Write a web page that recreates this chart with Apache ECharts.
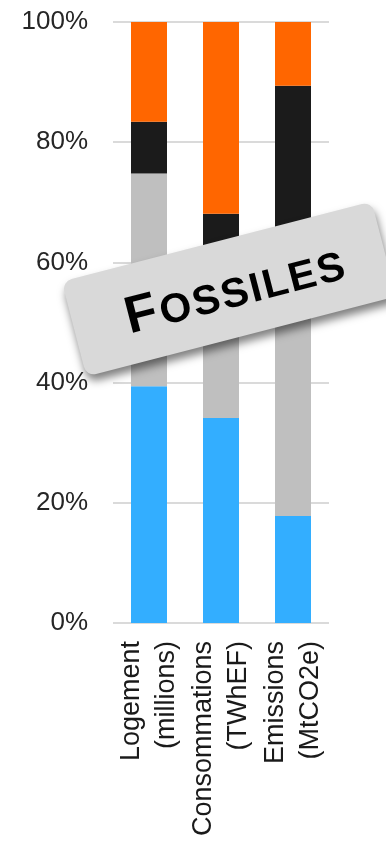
<!DOCTYPE html>
<html lang="fr">

<head>
    <meta charset="utf-8">
    <script src="https://cdn.jsdelivr.net/npm/echarts@6.0.0/dist/echarts.min.js"></script>
    <style>
        html, body {
            margin: 0;
            padding: 0;
            background: #fff;
        }

        #chart {
            width: 386px;
            height: 844px;
        }
    </style>
</head>

<body>
    <div id="chart"></div>
    <script>
        // catégories et parts (en %) de chaque segment, de bas en haut
        const categories = ['Logement\n(millions)', 'Consommations\n(TWhEF)', 'Emissions\n(MtCO2e)']
        const blueShare = [39.4, 34.1, 17.8]
        const greyShare = [35.4, 21.9, 42.2]
        const blackShare = [8.6, 12.1, 29.4]
        const orangeShare = [16.6, 31.9, 10.6]
        const yTicks = [0, 20, 40, 60, 80, 100]

        const colors = ['#33aeff', '#bfbfbf', '#1b1b1b', '#ff6600']
        const stacks = [blueShare, greyShare, blackShare, orangeShare]

        // étiquette "FOSSILES" en petites capitales, lettres espacées
        const word = 'FOSSILES'
        const wordText = word.split('').map((c, i) => (i == 0 ? '{f|' : '{s|') + c + '}').join('')

        let chart = echarts.init(document.querySelector('#chart'))
        chart.setOption({
            animation: false,
            grid: {
                left: 113,
                right: 57,
                top: 22,
                bottom: 221,
                containLabel: false
            },
            xAxis: {
                type: 'category',
                data: categories,
                axisLine: { show: false },
                axisTick: { show: false },
                axisLabel: {
                    rotate: 90,
                    margin: 18,
                    interval: 0,
                    fontFamily: 'Liberation Sans',
                    fontSize: 27,
                    lineHeight: 35,
                    color: '#1a1a1a'
                }
            },
            yAxis: {
                type: 'value',
                min: yTicks[0],
                max: yTicks[yTicks.length - 1],
                interval: 20,
                axisLine: { show: false },
                axisTick: { show: false },
                axisLabel: {
                    formatter: '{value}%',
                    margin: 25,
                    fontFamily: 'Liberation Sans',
                    fontSize: 26,
                    color: '#262626'
                },
                splitLine: {
                    lineStyle: { color: '#dadada', width: 2 }
                }
            },
            series: stacks.map((d, i) => ({
                type: 'bar',
                stack: 'total',
                data: d,
                barWidth: 36,
                itemStyle: { color: colors[i] }
            })),
            graphic: {
                elements: [{
                    type: 'group',
                    x: 229,
                    y: 289,
                    rotation: 14.5 * Math.PI / 180,
                    z: 100,
                    children: [{
                        type: 'rect',
                        z: 100,
                        shape: { x: -160, y: -49, width: 320, height: 98, r: 10 },
                        style: {
                            fill: '#d9d9d9',
                            shadowBlur: 9,
                            shadowOffsetX: 2,
                            shadowOffsetY: 6,
                            shadowColor: 'rgba(0,0,0,0.5)'
                        }
                    }, {
                        type: 'text',
                        z: 101,
                        style: {
                            text: wordText,
                            x: 6,
                            y: 4,
                            align: 'center',
                            verticalAlign: 'middle',
                            fill: '#000',
                            rich: {
                                f: {
                                    fontFamily: 'Liberation Sans',
                                    fontWeight: 'bold',
                                    fontSize: 52,
                                    lineHeight: 52,
                                    verticalAlign: 'bottom',
                                    padding: [0, 3, 0, 0]
                                },
                                s: {
                                    fontFamily: 'Liberation Sans',
                                    fontWeight: 'bold',
                                    fontSize: 41,
                                    lineHeight: 41,
                                    verticalAlign: 'bottom',
                                    padding: [0, 2, 2, 0]
                                }
                            }
                        }
                    }]
                }]
            }
        })
    </script>
</body>

</html>
